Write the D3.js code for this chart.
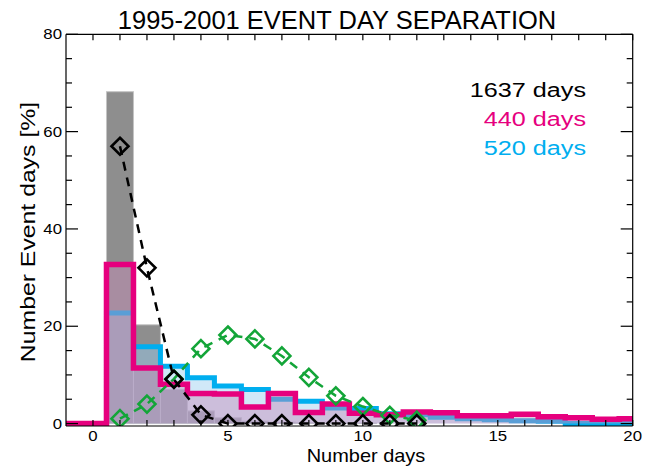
<html>
<head>
<meta charset="utf-8">
<script src="https://d3js.org/d3.v7.min.js"></script>
<style>
body {
	margin: 0;
	background: #fff;
	font-family: "Liberation Sans", Arial, sans-serif;
}
.frame line { stroke: #000; stroke-width: 1.2; }
.tickLabel { font-size: 14px; fill: #000; }
</style>
</head>
<body>
<div id="chart"></div>
<script>

// histogram bins (days between events)
var bins = [1, 2, 3, 4, 5, 6, 7, 8, 9, 10, 11, 12, 13, 14, 15, 16, 17, 18, 19, 20];
// all 1637 days (gray bars)
var allDays = [68.2, 20.3, 7.0, 2.6, 1.2, 0.5, 0.3, 0.2, 0.1, 0.1, 0, 0, 0, 0, 0, 0, 0, 0, 0, 0];
// 440 days (magenta)
var days440 = [32.7, 11.4, 8.1, 6.2, 6.1, 3.4, 6.2, 2.3, 4.0, 2.1, 1.8, 2.4, 2.2, 1.6, 1.6, 1.9, 1.4, 1.2, 0.9, 1.0];
// 520 days (blue)
var days520 = [22.7, 15.8, 11.8, 9.4, 7.7, 7.0, 5.0, 4.6, 3.2, 3.1, 2.0, 1.8, 1.3, 1.0, 0.8, 0.6, 0.5, 0, 0, 0];
// dashed curves with diamonds
var curveX = [1, 2, 3, 4, 5, 6, 7, 8, 9, 10, 11, 12];
var curveAll = [57.0, 32.0, 9.1, 1.8, 0, 0, 0, 0, 0, 0, 0, 0];
var curveSep = [1.0, 4.0, 9.2, 15.4, 18.2, 17.4, 13.9, 9.5, 5.7, 3.5, 1.7, 0.7];

var xTicks = [0, 5, 10, 15, 20];
var yTicks = [0, 20, 40, 60, 80];
var legendLabels = ["1637 days", "440 days", "520 days"];
var legendColors = ["#000000", "#e6007e", "#00aeef"];

var W = 653, H = 468;
var margin = {top: 34.3, right: 20.3, bottom: 42, left: 66};
var width = W - margin.left - margin.right,
    height = H - margin.top - margin.bottom;

var sx = 1.2; // tick and legend text is drawn a little wide

var x = d3.scaleLinear().domain([-1, 20]).range([0, width]),
    y = d3.scaleLinear().domain([-0.5, 80]).range([height, 0]);

var svg = d3.select("#chart").append("svg")
    .attr("width", W)
    .attr("height", H);

var g = svg.append("g")
    .attr("transform", "translate(" + margin.left + "," + margin.top + ")");

g.append("clipPath").attr("id", "plotClip")
  .append("rect")
    .attr("width", width)
    .attr("height", height);

var plot = g.append("g").attr("clip-path", "url(#plotClip)");

function addText(sel, tx, ty, str, size, anchor, color, stretch) {
	return sel.append("text")
		.attr("transform", "translate(" + tx + "," + ty + ") scale(" + (stretch || sx) + ",1)")
		.attr("text-anchor", anchor)
		.attr("font-size", size)
		.attr("fill", color || "#000")
		.text(str);
}

// gray bars
plot.selectAll(".grayBar")
  .data(bins)
  .enter()
  .append("rect")
    .attr("class", "grayBar")
    .attr("x", function(d) { return x(d - 0.5); })
    .attr("width", function(d) { return x(d + 0.5) - x(d - 0.5); })
    .attr("y", function(d, i) { return y(allDays[i]); })
    .attr("height", function(d, i) { return y(0) - y(allDays[i]); })
    .attr("fill", "#8e8e8e")
    .attr("stroke", "#c4c4c4")
    .attr("stroke-width", 1);

function stepPoints(values) {
	var pts = [[-1, 0], [bins[0] - 0.5, 0]];
	bins.forEach(function(b, i) {
		pts.push([b - 0.5, values[i]]);
		pts.push([b + 0.5, values[i]]);
	});
	pts.push([bins[bins.length - 1] + 0.5, 0]);
	return pts;
}

var stepLine = d3.line()
    .x(function(d) { return x(d[0]); })
    .y(function(d) { return y(d[1]); });
var stepArea = d3.area()
    .x(function(d) { return x(d[0]); })
    .y0(y(0))
    .y1(function(d) { return y(d[1]); });

// blue histogram
plot.append("path")
    .datum(stepPoints(days520))
    .attr("d", stepArea)
    .attr("fill", "rgb(150,205,240)")
    .attr("fill-opacity", 0.45);
plot.append("path")
    .datum(stepPoints(days520))
    .attr("d", stepLine)
    .attr("fill", "none")
    .attr("stroke", "#00aeef")
    .attr("stroke-width", 5);

// magenta histogram
plot.append("path")
    .datum(stepPoints(days440))
    .attr("d", stepArea)
    .attr("fill", "rgb(200,140,185)")
    .attr("fill-opacity", 0.45);
plot.append("path")
    .datum(stepPoints(days440))
    .attr("d", stepLine)
    .attr("fill", "none")
    .attr("stroke", "#e6007e")
    .attr("stroke-width", 5.5);

// dashed curves
function drawCurve(values, color) {
	var line = d3.line()
	    .x(function(d) { return x(d); })
	    .y(function(d, i) { return y(values[i]); });
	plot.append("path")
	    .datum(curveX)
	    .attr("d", line)
	    .attr("fill", "none")
	    .attr("stroke", color)
	    .attr("stroke-width", 2.5)
	    .attr("stroke-dasharray", "9,7");
	plot.selectAll(null)
	  .data(curveX)
	  .enter()
	  .append("path")
	    .attr("d", function(d, i) {
	    	var cx = x(d), cy = y(values[i]), r = 8.5;
	    	return "M" + cx + "," + (cy - r) + "L" + (cx + r) + "," + cy +
	    		"L" + cx + "," + (cy + r) + "L" + (cx - r) + "," + cy + "Z";
	    })
	    .attr("fill", "none")
	    .attr("stroke", color)
	    .attr("stroke-width", 2.6);
}
drawCurve(curveSep, "#13a538");
drawCurve(curveAll, "#000000");

// frame
var frame = g.append("g").attr("class", "frame");
frame.append("line").attr("x1", 0).attr("x2", width).attr("y1", 0).attr("y2", 0);
frame.append("line").attr("x1", 0).attr("x2", width).attr("y1", height).attr("y2", height);
frame.append("line").attr("x1", 0).attr("x2", 0).attr("y1", 0).attr("y2", height);
frame.append("line").attr("x1", width).attr("x2", width).attr("y1", 0).attr("y2", height);

// ticks
var xMinor = d3.range(0, 21, 1);
var yMinor = d3.range(0, 81, 5);
xMinor.forEach(function(t) {
	frame.append("line").attr("x1", x(t)).attr("x2", x(t)).attr("y1", height).attr("y2", height - 6);
	frame.append("line").attr("x1", x(t)).attr("x2", x(t)).attr("y1", 0).attr("y2", 6);
});
yMinor.forEach(function(t) {
	var len = (t % 20 === 0) ? 12 : 6;
	frame.append("line").attr("x1", 0).attr("x2", len).attr("y1", y(t)).attr("y2", y(t));
	frame.append("line").attr("x1", width).attr("x2", width - len).attr("y1", y(t)).attr("y2", y(t));
});

// tick labels
xTicks.forEach(function(t) {
	addText(g, x(t), height + 15, t, 14, "middle").attr("class", "tickLabel");
});
yTicks.forEach(function(t) {
	addText(g, -4, y(t) + 5, t, 14, "end").attr("class", "tickLabel");
});

// titles
addText(svg, 337, 29, "1995-2001 EVENT DAY SEPARATION", 25.5, "middle", "#000", 1);
addText(svg, 366, 462, "Number days", 19, "middle", "#000", 1.05);
svg.append("text")
    .attr("transform", "translate(35," + 232 + ") rotate(-90) scale(1.24,1)")
    .attr("text-anchor", "middle")
    .attr("font-size", 20)
    .text("Number Event days [%]");

// legend
legendLabels.forEach(function(l, i) {
	addText(g, 520, 63 + i * 29, l, 21, "end", legendColors[i]);
});

</script>
</body>
</html>
